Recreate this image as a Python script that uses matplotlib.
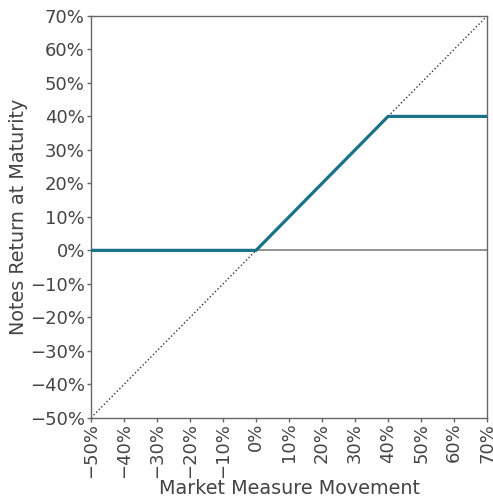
import numpy as np
import matplotlib.pyplot as plt
from matplotlib.ticker import FuncFormatter

# payoff: market movement (%) vs notes return (%)
market_move = [-50, 0, 40, 70]
notes_return = [0, 0, 40, 40]
diag = [-50, 70]
ticks = list(range(-50, 71, 10))

fig = plt.figure(figsize=(4.93, 4.98), dpi=100)
ax = fig.add_axes([0.1846, 0.161, 0.8034, 0.807])

ax.axhline(0, color='#808080', lw=1.2, zorder=1)
ax.plot(diag, diag, ls=':', color='#333333', lw=1.0, zorder=2)
ax.plot(market_move, notes_return, color='#1a7286', lw=2.3, zorder=3)

ax.set_xlim(-50, 70)
ax.set_ylim(-50, 70)
ax.set_xticks(ticks)
ax.set_yticks(ticks)
fmt = FuncFormatter(lambda v, p: '%d%%' % v if v >= 0 else '\u2212%d%%' % -v)
ax.xaxis.set_major_formatter(fmt)
ax.yaxis.set_major_formatter(fmt)

for s in ax.spines.values():
    s.set_color('#666666')
    s.set_linewidth(1.0)
ax.tick_params(colors='#666666', labelcolor='#444444', labelsize=13,
               length=3, width=1.0)
ax.tick_params(axis='x', pad=0.5)
ax.tick_params(axis='y', pad=1.5)
plt.setp(ax.get_xticklabels(), rotation=90)

ax.set_xlabel('Market Measure Movement', fontsize=13.8, color='#444444', labelpad=1)
ax.set_ylabel('Notes Return at Maturity', fontsize=13.8, color='#444444', labelpad=1.5)

fig.savefig('out.png', dpi=100)
